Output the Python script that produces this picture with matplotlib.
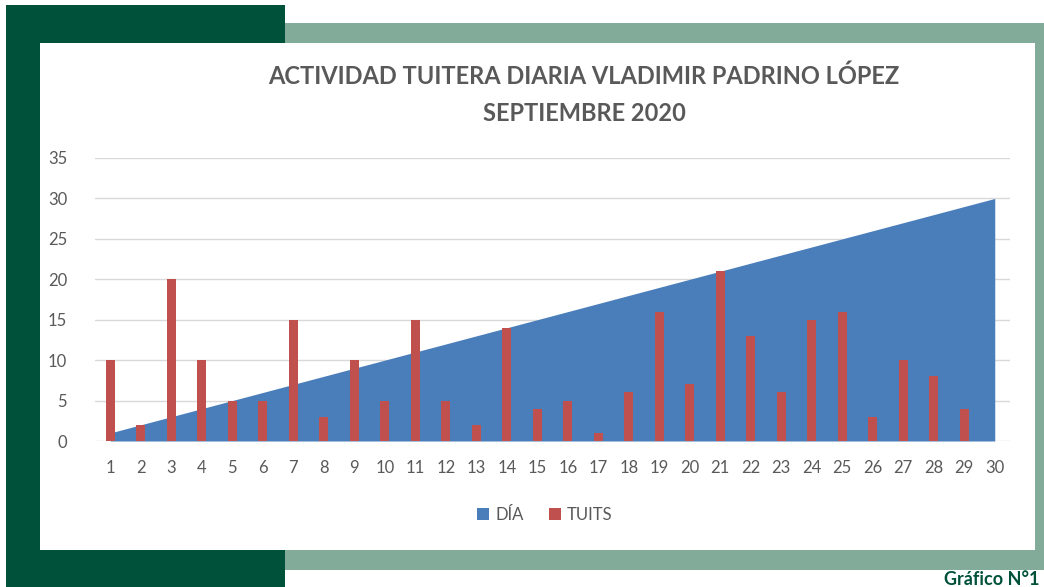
import matplotlib.pyplot as plt
from matplotlib.patches import Rectangle

plt.rcParams['font.family'] = ['Lato', 'DejaVu Sans']

# Data
dias = list(range(1, 31))
dia_vals = list(range(1, 31))
tuits = [10, 2, 20, 10, 5, 5, 15, 3, 10, 5,
         15, 5, 2, 14, 4, 5, 1, 6, 16, 7,
         21, 13, 6, 15, 16, 3, 10, 8, 4, 0]

W, H = 1044, 587
fig = plt.figure(figsize=(W / 100, H / 100), dpi=100)
fig.patch.set_facecolor("white")

def px_rect(x0, y0, x1, y1, color, z):
    fig.patches.append(Rectangle((x0 / W, 1 - y1 / H), (x1 - x0) / W, (y1 - y0) / H,
                                 transform=fig.transFigure, facecolor=color,
                                 edgecolor="none", zorder=z))

# frames
px_rect(6, 5, 285, 587, "#00513A", 0)
px_rect(285, 23, 1044, 570, "#82AB9A", 0)
px_rect(40, 43, 1035, 550, "white", 1)

ax = fig.add_axes([95 / W, 1 - 441 / H, (1010 - 95) / W, (441 - 158) / H])
ax.set_zorder(2)
ax.patch.set_alpha(0)

ax.fill_between(dias, dia_vals, 0, color="#4A7EBB", linewidth=0, label="DÍA", zorder=2)
ax.bar(dias, tuits, width=0.28, color="#C0504D", label="TUITS", zorder=3)

ax.set_xlim(0.5, 30.5)
ax.set_ylim(0, 35)
ax.set_yticks(range(0, 36, 5))
ax.set_xticks(dias)
ax.grid(axis="y", color="#D9D9D9", linewidth=1, zorder=0)
ax.set_axisbelow(True)
for s in ax.spines.values():
    s.set_visible(False)
ax.tick_params(length=0, colors="#595959", labelsize=12)
ax.tick_params(axis="x", pad=14)
ax.tick_params(axis="y", pad=20)

fig.text(584 / W, 1 - 95 / H, "ACTIVIDAD TUITERA DIARIA VLADIMIR PADRINO LÓPEZ\nSEPTIEMBRE 2020",
         ha="center", va="center", fontsize=17, fontweight="bold", color="#595959",
         linespacing=1.75, zorder=5)

ax.legend(loc="center", bbox_to_anchor=(545 / W, 1 - 515 / H), bbox_transform=fig.transFigure,
          ncol=2, frameon=False, fontsize=12, labelcolor="#595959",
          handlelength=0.7, handleheight=0.7, columnspacing=1.5, handletextpad=0.4)

fig.text(1040 / W, 1 - 585 / H, "Gráfico N°1", ha="right", va="baseline", fontsize=13,
         fontweight="bold", color="#00513A", zorder=5)

fig.savefig("out.png", dpi=100)
